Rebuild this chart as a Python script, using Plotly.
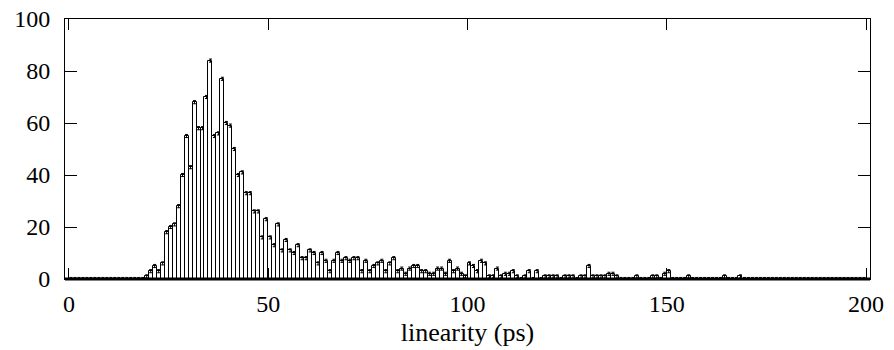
import plotly.graph_objects as go

# Histogram bins: bin v covers [v-1, v) in "linearity (ps)"
bin_upper = list(range(1, 201))
counts_nonzero = {
    20: 1, 21: 3, 22: 5, 23: 3, 24: 6, 25: 18, 26: 20, 27: 21, 28: 28, 29: 40,
    30: 55, 31: 43, 32: 68, 33: 58, 34: 58, 35: 70, 36: 84, 37: 55, 38: 56, 39: 77,
    40: 60, 41: 59, 42: 50, 43: 40, 44: 41, 45: 33, 46: 33, 47: 26, 48: 26, 49: 16,
    50: 23, 51: 16, 52: 13, 53: 21, 54: 11, 55: 15, 56: 11, 57: 10, 58: 13, 59: 8,
    60: 8, 61: 11, 62: 10, 63: 6, 64: 10, 65: 7, 66: 3, 67: 7, 68: 10, 69: 7,
    70: 8, 71: 7, 72: 8, 73: 8, 74: 3, 75: 7, 76: 3, 77: 5, 78: 6, 79: 7,
    80: 3, 81: 6, 82: 8, 83: 3, 84: 4, 85: 2, 86: 4, 87: 5, 88: 5, 89: 3,
    90: 3, 91: 2, 92: 2, 93: 4, 94: 4, 95: 2, 96: 7, 97: 3, 98: 4, 99: 2,
    100: 1, 101: 6, 102: 5, 103: 3, 104: 7, 105: 6, 106: 1, 107: 1, 108: 4, 109: 1,
    110: 2, 111: 2, 112: 3, 113: 1, 115: 1, 116: 3, 118: 3,
    120: 1, 121: 1, 122: 1, 123: 1, 125: 1, 126: 1, 127: 1, 129: 1,
    130: 1, 131: 5, 132: 1, 133: 1, 134: 1, 135: 1, 136: 2, 137: 2, 138: 1,
    143: 1, 147: 1, 148: 1, 150: 2, 151: 3, 156: 1, 165: 1, 169: 1,
}
counts = [counts_nonzero.get(v, 0) for v in bin_upper]

x_ticks = [0, 50, 100, 150, 200]
y_ticks = [0, 20, 40, 60, 80, 100]

centers = [v - 0.5 for v in bin_upper]

fig = go.Figure()
fig.add_trace(go.Bar(
    x=centers, y=counts, width=[1.0] * len(centers),
    marker=dict(color="white", line=dict(color="black", width=1)),
    error_y=dict(type="constant", value=0.6, color="black", thickness=1, width=1.5),
    showlegend=False, hoverinfo="skip",
))

font = dict(family="Liberation Serif, Times New Roman, serif", size=24, color="black")
title_font = dict(family="Liberation Serif, Times New Roman, serif", size=26, color="black")

fig.update_layout(
    width=894, height=350,
    margin=dict(l=65, r=24, t=19, b=71, autoexpand=False),
    paper_bgcolor="white", plot_bgcolor="white",
    bargap=0,
    font=font,
    xaxis=dict(
        range=[-1, 201], tickvals=x_ticks, ticktext=[str(t) for t in x_ticks],
        ticks="inside", ticklen=11, tickwidth=1, tickcolor="black",
        showline=True, linecolor="black", linewidth=1, mirror="ticks",
        showgrid=False, zeroline=False, ticklabelstandoff=3,
        ticklabeloverflow="allow", automargin=False,
        title=dict(text="linearity (ps)", font=title_font, standoff=7),
    ),
    yaxis=dict(
        range=[0, 100], tickvals=y_ticks, ticktext=[str(t) for t in y_ticks],
        ticks="inside", ticklen=12, tickwidth=1, tickcolor="black",
        showline=True, linecolor="black", linewidth=1, mirror="ticks",
        showgrid=False, zeroline=False, ticklabelstandoff=9,
        ticklabeloverflow="allow", automargin=False,
    ),
    shapes=[dict(type="line", xref="paper", yref="paper", x0=0, x1=1, y0=0, y1=0,
                 line=dict(color="black", width=3))],
)

# Remove the default 8px page margin so the figure sits at the window's corner
fig.write_html("out.html", config={"displayModeBar": False},
               post_script="document.body.style.margin='0';")
